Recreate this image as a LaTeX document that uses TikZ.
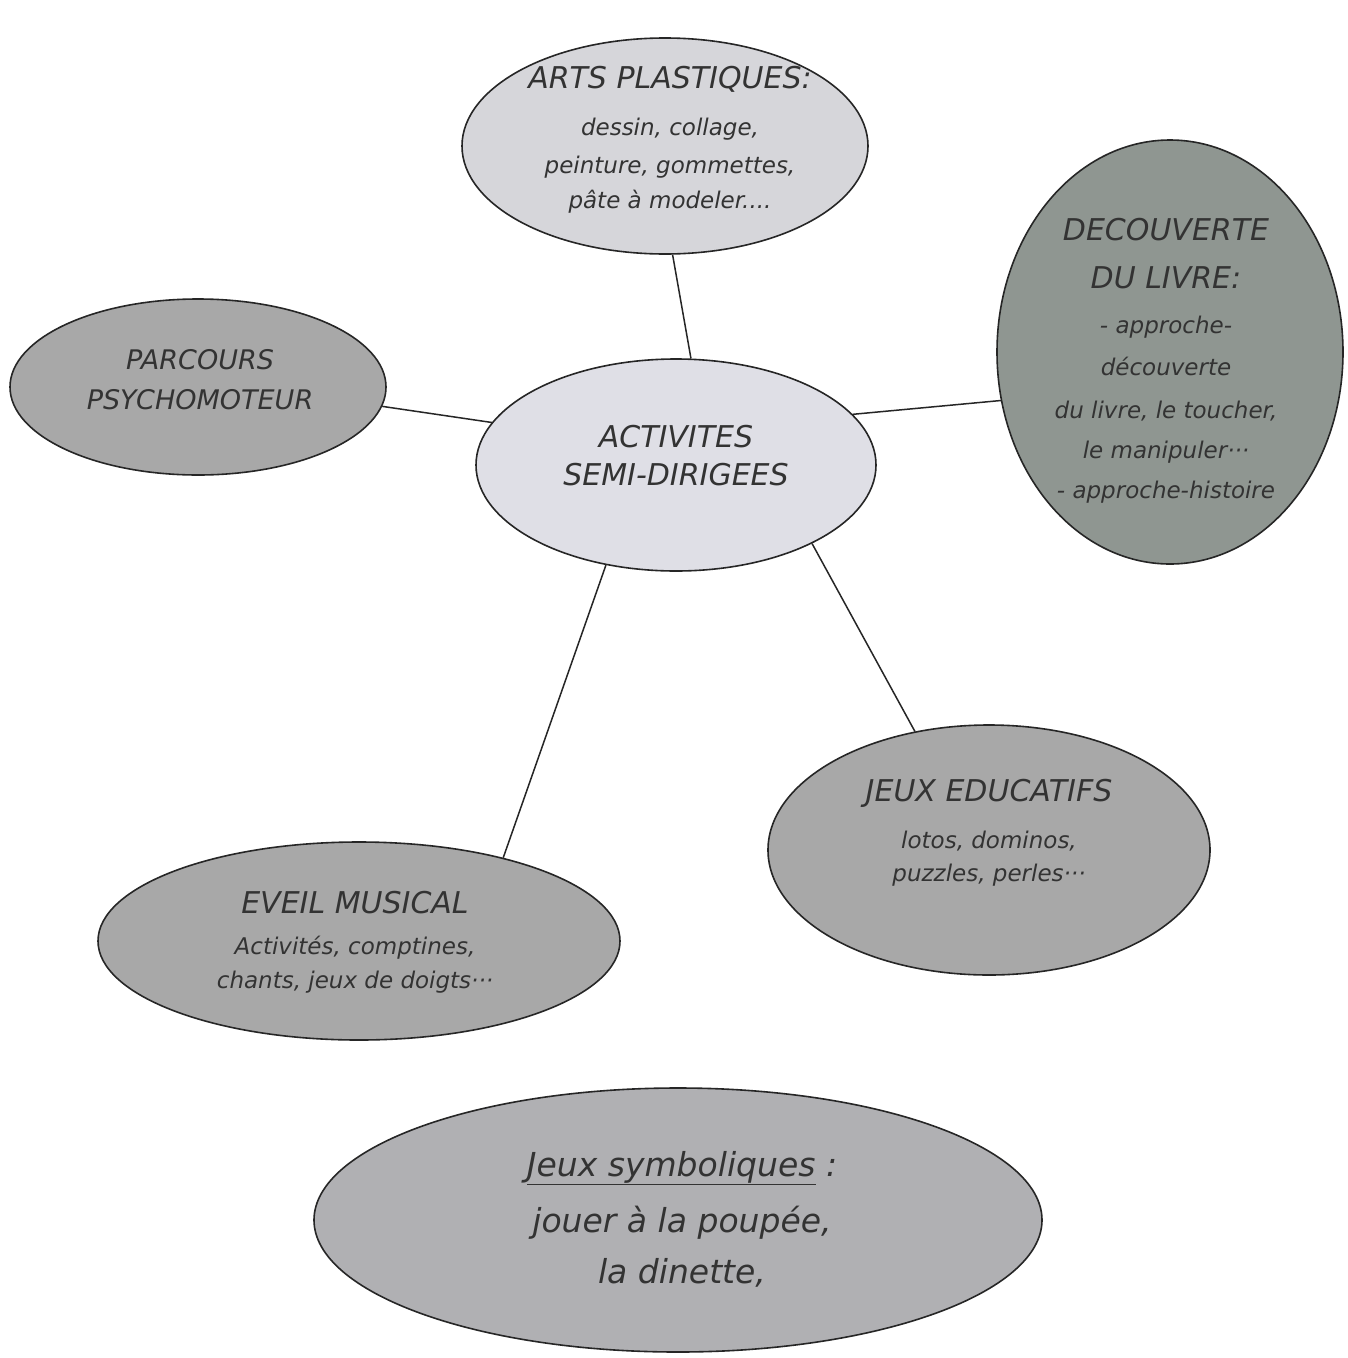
\documentclass[tikz,border=0pt]{standalone}
\usepackage{fontspec}
\setmainfont{DejaVu Sans}
\usetikzlibrary{shapes.geometric}
\definecolor{centrefill}{HTML}{DFDFE6}
\definecolor{artsfill}{HTML}{D6D6DA}
\definecolor{midfill}{HTML}{A8A8A8}
\definecolor{livrefill}{HTML}{8F9691}
\definecolor{symbfill}{HTML}{B0B0B3}
\definecolor{ink}{HTML}{333333}
\tikzset{
  bubble/.style={draw=black!85, line width=1.6pt, ellipse, inner sep=0pt},
  txt/.style={align=center, text=ink, inner sep=0pt,
    font=\itshape\fontsize{30}{38}\selectfont},
  link/.style={line width=1.5pt, black!85}
}
\newcommand{\bodytxt}{\fontsize{23}{38}\selectfont}
\begin{document}
\begin{tikzpicture}[x=1pt, y=-1pt]
    \useasboundingbox (0,0) rectangle (1348,1358);
    \fill[white] (0,0) rectangle (1348,1358);

    % les bulles
    \node[bubble, fill=artsfill, minimum width=406, minimum height=216]
        (arts) at (665,146) {};
    \node[bubble, fill=centrefill, minimum width=400, minimum height=212]
        (centre) at (676,465) {};
    \node[bubble, fill=midfill, minimum width=376, minimum height=176]
        (parcours) at (198,387) {};
    \node[bubble, fill=livrefill, minimum width=346, minimum height=424]
        (livre) at (1170,352) {};
    \node[bubble, fill=midfill, minimum width=442, minimum height=250]
        (jeux) at (989,850) {};
    \node[bubble, fill=midfill, minimum width=522, minimum height=198]
        (eveil) at (359,941) {};
    \node[bubble, fill=symbfill, minimum width=728, minimum height=264]
        (symb) at (678,1220) {};

    % les textes
    \node[txt] (artsT) at (670,140)
        {ARTS PLASTIQUES:\\[9pt]
         {\bodytxt dessin, collage,}\\
         {\bodytxt peinture, gommettes,}\\[-3pt]
         {\bodytxt pâte à modeler....}};
    \node[txt] (centreT) at (676,456) {ACTIVITES\\SEMI-DIRIGEES};
    \node[txt, font=\itshape\fontsize{27}{38}\selectfont] (parcoursT) at (200,380)
        {PARCOURS\\[2pt]PSYCHOMOTEUR};
    \node[txt] (livreT) at (1166,361)
        {DECOUVERTE\\[10pt]DU LIVRE:\\[7pt]
         {\bodytxt - approche-}\\[4pt]
         {\bodytxt découverte}\\[5pt]
         {\bodytxt du livre, le toucher,}\\[2pt]
         {\bodytxt le manipuler···}\\[2pt]
         {\bodytxt - approche-histoire}};
    \node[txt] (jeuxT) at (989,833)
        {JEUX EDUCATIFS\\[9pt]
         {\bodytxt lotos, dominos,}\\[-5pt]
         {\bodytxt puzzles, perles···}};
    \node[txt] (eveilT) at (355,942)
        {EVEIL MUSICAL\\[3pt]
         {\bodytxt Activités, comptines,}\\[-4pt]
         {\bodytxt chants, jeux de doigts···}};
    \node[txt, font=\itshape\fontsize{33}{52}\selectfont] (symbT) at (682,1219)
        {\underline{Jeux symboliques} :\\[4pt]jouer à la poupée,\\[-1pt]la dinette,};

    % liens vers le centre
    \draw[link] (arts.-86) -- (centre.82);
    \draw[link] (parcours.-6) -- (centre.167);
    \draw[link] (centre.16) -- (livre.-164);
    \draw[link] (centre.-30) -- (jeux.122);
    \draw[link] (centre.235) -- (eveil.30);
\end{tikzpicture}
\end{document}
